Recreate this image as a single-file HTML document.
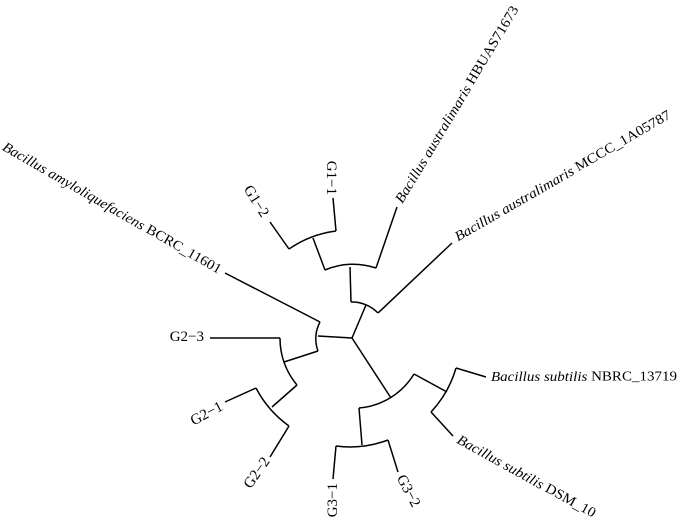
<!DOCTYPE html>
<html><head><meta charset="utf-8"><style>
html,body{margin:0;padding:0;background:#fff;width:678px;height:523px;overflow:hidden}
svg{display:block}
text{font-family:"Liberation Serif",serif;font-size:14px;fill:#000}
.g{font-size:15px}
.i{font-style:italic}
</style></head><body>
<svg width="678" height="523" viewBox="0 0 678 523" xmlns="http://www.w3.org/2000/svg">
<g fill="none" stroke="#000" stroke-width="1.5">
<path d="M352,338 L318,336"/>
<path d="M352,338 L366,305"/>
<path d="M352,338 L391,398"/>
<path d="M318,351 A35,35 0 0 1 320,322"/>
<path d="M320,322 L225,273"/>
<path d="M318,351 L284,362"/>
<path d="M297,385 A72,72 0 0 1 280,338"/>
<path d="M280,338 L210,338"/>
<path d="M297,385 L272,407"/>
<path d="M289,426 A108,108 0 0 1 256,388"/>
<path d="M256,388 L225,402"/>
<path d="M289,426 L270,457"/>
<path d="M351,302 A36,36 0 0 1 378,313"/>
<path d="M378,313 L452,243"/>
<path d="M351,302 L350,267"/>
<path d="M325,270 A71,71 0 0 1 376,268"/>
<path d="M376,268 L397,207"/>
<path d="M325,270 L313,238"/>
<path d="M289,249 A107,107 0 0 1 336,231"/>
<path d="M289,249 L270,222"/>
<path d="M336,231 L333,198"/>
<path d="M414,374 A71,71 0 0 1 359,408"/>
<path d="M414,374 L447,392"/>
<path d="M456,368 A108,108 0 0 1 431,412"/>
<path d="M456,368 L486,377"/>
<path d="M431,412 L453,436"/>
<path d="M359,408 L362,445"/>
<path d="M388,440 A107,107 0 0 1 336,446"/>
<path d="M336,446 L333,479"/>
<path d="M388,440 L398,472"/>
</g>
<g dominant-baseline="central">
<text transform="translate(220,271) rotate(30)" text-anchor="end" textLength="250" lengthAdjust="spacingAndGlyphs"><tspan class="i">Bacillus amyloliquefaciens</tspan> BCRC_11601</text>
<text transform="translate(399,202) rotate(-59)" textLength="227" lengthAdjust="spacingAndGlyphs"><tspan class="i">Bacillus australimaris</tspan> HBUAS71673</text>
<text transform="translate(456,238) rotate(-30)" textLength="247" lengthAdjust="spacingAndGlyphs"><tspan class="i">Bacillus australimaris</tspan> MCCC_1A05787</text>
<text x="491" y="377" textLength="186" lengthAdjust="spacingAndGlyphs"><tspan class="i">Bacillus subtilis</tspan> NBRC_13719</text>
<text transform="translate(458,439) rotate(29)" textLength="156" lengthAdjust="spacingAndGlyphs"><tspan class="i">Bacillus subtilis</tspan> DSM_10</text>
<text class="g" x="204" y="337" text-anchor="end">G2−3</text>
<text class="g" transform="translate(222,406) rotate(-28)" text-anchor="end">G2−1</text>
<text class="g" transform="translate(267,459) rotate(-55)" text-anchor="end">G2−2</text>
<text class="g" transform="translate(333,483) rotate(-90)" text-anchor="end">G3−1</text>
<text class="g" transform="translate(400,476) rotate(62)">G3−2</text>
<text class="g" transform="translate(331,195) rotate(90)" text-anchor="end">G1−1</text>
<text class="g" transform="translate(265,216) rotate(58)" text-anchor="end">G1−2</text>
</g>
</svg>
</body></html>
